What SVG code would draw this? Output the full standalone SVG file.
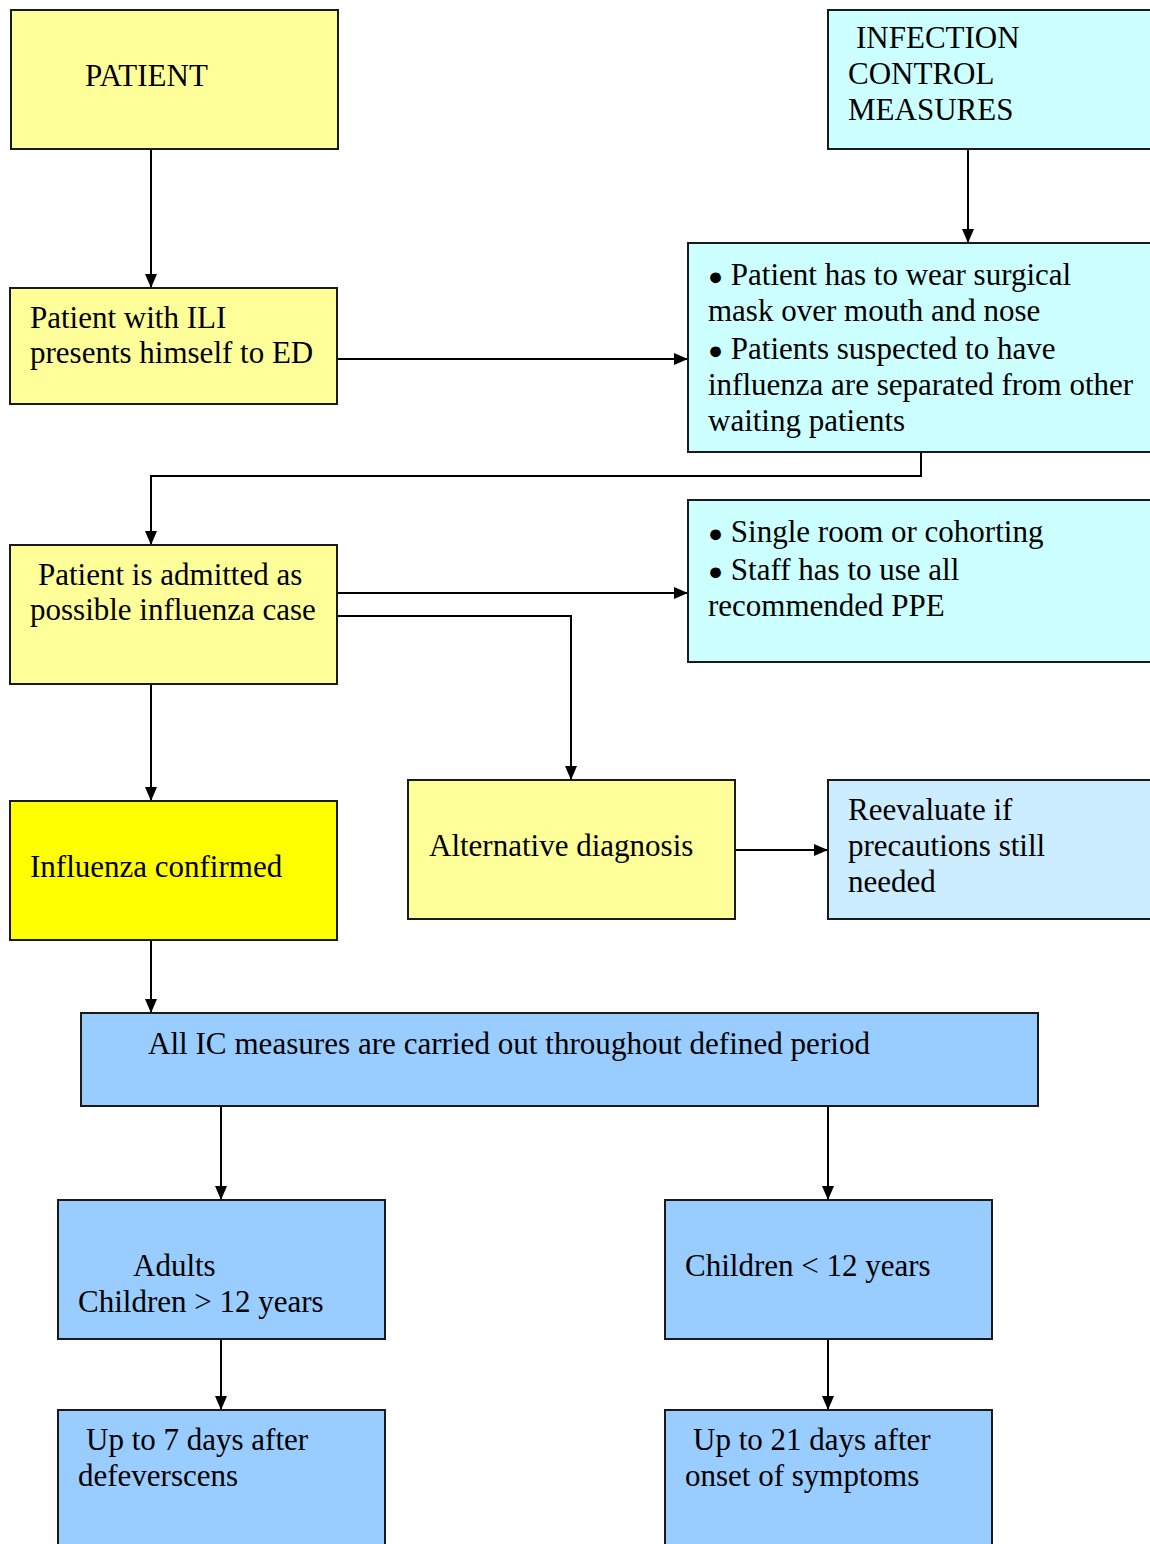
<svg xmlns="http://www.w3.org/2000/svg" width="1150" height="1544" viewBox="0 0 1150 1544">
<style>
.b{stroke:#1a1a1a;stroke-width:2}
.y{fill:#FFFF99}.c{fill:#CCFFFF}.lb{fill:#CCECFF}.bl{fill:#99CCFF}.yy{fill:#FFFF00}
text{font-family:"Liberation Serif","Times New Roman",serif;font-size:31px;fill:#000}
.bu{font-size:25px}
.ln{fill:none;stroke:#000;stroke-width:2}
</style>
<defs>
<marker id="a" viewBox="0 0 14 12" refX="14" refY="6" markerWidth="14" markerHeight="12" markerUnits="userSpaceOnUse" orient="auto">
<path d="M0,0 L14,6 L0,12 Z" fill="#000"/>
</marker>
</defs>
<rect width="1150" height="1544" fill="#fff"/>
<g id="connectors">
<path class="ln" d="M151,149 V288" marker-end="url(#a)"/>
<path class="ln" d="M968,149 V243" marker-end="url(#a)"/>
<path class="ln" d="M337,359 H688" marker-end="url(#a)"/>
<path class="ln" d="M921,452 V476 H151 V545" marker-end="url(#a)"/>
<path class="ln" d="M337,593 H688" marker-end="url(#a)"/>
<path class="ln" d="M337,616 H571 V780" marker-end="url(#a)"/>
<path class="ln" d="M151,684 V801" marker-end="url(#a)"/>
<path class="ln" d="M735,850 H828" marker-end="url(#a)"/>
<path class="ln" d="M151,940 V1013" marker-end="url(#a)"/>
<path class="ln" d="M221,1106 V1200" marker-end="url(#a)"/>
<path class="ln" d="M828,1106 V1200" marker-end="url(#a)"/>
<path class="ln" d="M221,1339 V1410" marker-end="url(#a)"/>
<path class="ln" d="M828,1339 V1410" marker-end="url(#a)"/>
</g>
<g id="patient"><rect class="b y" x="11" y="10" width="327" height="139"/><text x="85" y="86">PATIENT</text></g>
<g id="icm"><rect class="b c" x="828" y="10" width="330" height="139"/><text x="856" y="48">INFECTION</text><text x="848" y="84">CONTROL</text><text x="848" y="120">MEASURES</text></g>
<g id="ili"><rect class="b y" x="10" y="288" width="327" height="116"/><text x="30" y="328">Patient with ILI</text><text x="30" y="363">presents himself to ED</text></g>
<g id="mask"><rect class="b c" x="688" y="243" width="470" height="209"/>
<text x="708" y="285"><tspan class="bu">●</tspan> Patient has to wear surgical</text>
<text x="708" y="321">mask over mouth and nose</text>
<text x="708" y="359"><tspan class="bu">●</tspan> Patients suspected to have</text>
<text x="708" y="395">influenza are separated from other</text>
<text x="708" y="431">waiting patients</text></g>
<g id="admitted"><rect class="b y" x="10" y="545" width="327" height="139"/><text x="38" y="585">Patient is admitted as</text><text x="30" y="620">possible influenza case</text></g>
<g id="single"><rect class="b c" x="688" y="500" width="470" height="162"/>
<text x="708" y="542"><tspan class="bu">●</tspan> Single room or cohorting</text>
<text x="708" y="580"><tspan class="bu">●</tspan> Staff has to use all</text>
<text x="708" y="616">recommended PPE</text></g>
<g id="confirmed"><rect class="b yy" x="10" y="801" width="327" height="139"/><text x="30" y="877">Influenza confirmed</text></g>
<g id="alt"><rect class="b y" x="408" y="780" width="327" height="139"/><text x="429" y="856">Alternative diagnosis</text></g>
<g id="reeval"><rect class="b lb" x="828" y="780" width="330" height="139"/><text x="848" y="820">Reevaluate if</text><text x="848" y="856">precautions still</text><text x="848" y="892">needed</text></g>
<g id="allic"><rect class="b bl" x="81" y="1013" width="957" height="93"/><text x="148" y="1054" textLength="722" lengthAdjust="spacingAndGlyphs">All IC measures are carried out throughout defined period</text></g>
<g id="adults"><rect class="b bl" x="58" y="1200" width="327" height="139"/><text x="133" y="1276">Adults</text><text x="78" y="1312">Children &gt; 12 years</text></g>
<g id="children"><rect class="b bl" x="665" y="1200" width="327" height="139"/><text x="685" y="1276">Children &lt; 12 years</text></g>
<g id="up7"><rect class="b bl" x="58" y="1410" width="327" height="150"/><text x="86" y="1450">Up to 7 days after</text><text x="78" y="1486">defeverscens</text></g>
<g id="up21"><rect class="b bl" x="665" y="1410" width="327" height="150"/><text x="693" y="1450">Up to 21 days after</text><text x="685" y="1486">onset of symptoms</text></g>
</svg>
